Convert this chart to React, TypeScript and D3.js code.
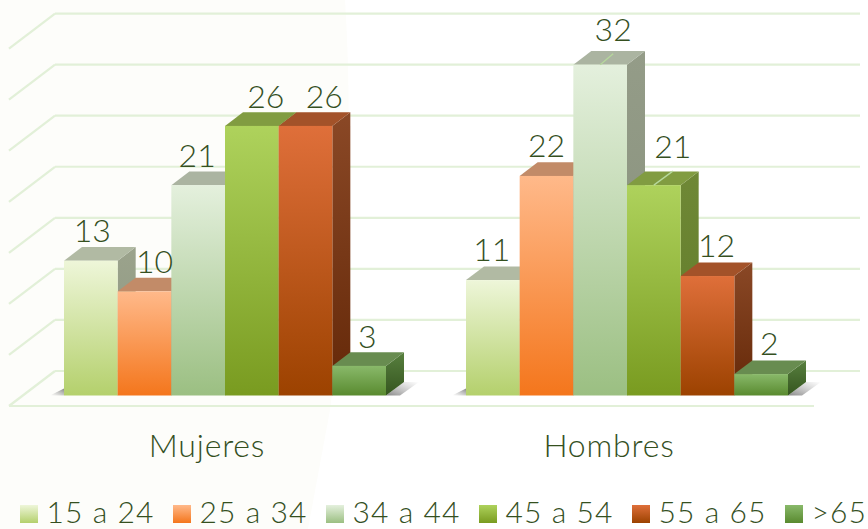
import React from "react";
import * as d3 from "d3";

const width = 868;
const height = 529;

const categories = ["Mujeres", "Hombres"];
const ageGroups = ["15 a 24", "25 a 34", "34 a 44", "45 a 54", "55 a 65", ">65"];
const mujeres = [13.2, 10.2, 20.6, 26.4, 26.4, 2.9];
const hombres = [11.3, 21.5, 32.4, 20.6, 11.7, 2.1];
const mujeresLabels = ["13", "10", "21", "26", "26", "3"];
const hombresLabels = ["11", "22", "32", "21", "12", "2"];
const yTicks = [0, 5, 10, 15, 20, 25, 30, 35];

// label nudges as placed by hand in the original chart
const mujeresNudge = [[1.5, -19], [10, -18], [-1, -18], [14, -18], [18.7, -18], [8, -18]];
const hombresNudge = [[-1, -19], [0, -19], [13, -24], [19, -27], [9, -19], [8, -19]];
// the two labels that got dragged far enough to grow a leader line
const leaders = [
  { group: 1, index: 2 },
  { group: 1, index: 3 },
];

const palette = [
  { front: ["#eef6d9", "#b4d06c"], top: "#b1baa3", side: ["#9ba38c", "#8c9580"] },
  { front: ["#ffb98a", "#f4761c"], top: "#c28b68", side: ["#a37a58", "#8a5a38"] },
  { front: ["#e4f0dd", "#9bbf82"], top: "#abb4a1", side: ["#949c88", "#868f7a"] },
  { front: ["#aed25c", "#799b20"], top: "#819c41", side: ["#6f8836", "#5f7a28"] },
  { front: ["#df6f3a", "#9c4200"], top: "#a35229", side: ["#8a4826", "#642808"] },
  { front: ["#89b96a", "#598a2f"], top: "#688c50", side: ["#58803f", "#35551f"] },
];

const textColor = "#35501f";
const gridColor = "#e2f0d8";
const depthX = 18;
const depthY = 13.6;
const floorY = 395.5;
const backLeft = 55;
const backRight = 860;
const wallDx = 46;
const wallDy = 35;
const font = "Lato, 'Open Sans', sans-serif";

const group = d3.scaleBand<string>().domain(categories).range([9, 813]);
const age = d3.scaleBand<string>().domain(ageGroups).range([55, 377]);
// gridlines run along the back wall
const yGrid = d3.scaleLinear().domain([0, 35]).range([371, 13.6]);
// bars stand nearer the viewer, same units, lower baseline
const yBar = d3.scaleLinear().domain([0, 35]).range([floorY, floorY - (371 - 13.6)]);
const legendX = d3.scalePoint<string>().domain(ageGroups).range([20, 785]);

const poly = d3.line();

const series = [
  { name: categories[0], values: mujeres, labels: mujeresLabels, nudge: mujeresNudge },
  { name: categories[1], values: hombres, labels: hombresLabels, nudge: hombresNudge },
];

export default function App() {
  const w = age.bandwidth();
  return (
    <svg
      width={width}
      height={height}
      style={{ position: "absolute", left: 0, top: 0, background: "#ffffff" }}
    >
      <defs>
        {palette.map((p, i) => (
          <React.Fragment key={i}>
            <linearGradient id={`front${i}`} x1="0" y1="0" x2="0" y2="1">
              <stop offset="0" stopColor={p.front[0]} />
              <stop offset="1" stopColor={p.front[1]} />
            </linearGradient>
            <linearGradient id={`side${i}`} x1="0" y1="0" x2="0" y2="1">
              <stop offset="0" stopColor={p.side[0]} />
              <stop offset="1" stopColor={p.side[1]} />
            </linearGradient>
          </React.Fragment>
        ))}
        <linearGradient id="shadowR" x1="0" y1="1" x2="1" y2="0">
          <stop offset="0" stopColor="#555" stopOpacity="0.7" />
          <stop offset="1" stopColor="#888" stopOpacity="0" />
        </linearGradient>
        <linearGradient id="shadowL" x1="1" y1="0" x2="0" y2="1">
          <stop offset="0" stopColor="#555" stopOpacity="0.7" />
          <stop offset="1" stopColor="#888" stopOpacity="0" />
        </linearGradient>
      </defs>

      {/* faint slide background */}
      <path d="M0,0 L345,0 C352,110 350,260 330,410 L308,529 L0,529 Z" fill="#fdfdfa" />

      {/* back wall grid and left wall */}
      <g stroke={gridColor} strokeWidth={2.2} fill="none">
        {yTicks.map((t) => (
          <g key={t}>
            <line x1={backLeft} x2={backRight} y1={yGrid(t)} y2={yGrid(t)} />
            <line
              x1={backLeft}
              x2={backLeft - wallDx}
              y1={yGrid(t)}
              y2={yGrid(t) + wallDy}
            />
          </g>
        ))}
        <line
          x1={backLeft - wallDx}
          x2={backRight - wallDx}
          y1={yGrid(0) + wallDy}
          y2={yGrid(0) + wallDy}
        />
      </g>

      {series.map((s) => {
        const gx = group(s.name) as number;
        const first = gx + (age(ageGroups[0]) as number);
        const last = gx + (age(ageGroups[5]) as number) + w;
        return (
          <g key={s.name}>
            {/* floor shadows */}
            <path
              d={poly([[first, floorY], [first - 14, floorY], [first, floorY - 7]]) as string}
              fill="url(#shadowL)"
            />
            <path
              d={poly([[last, floorY], [last + 18, floorY - 13.6], [last + 33, floorY - 13.6], [last + 14, floorY]]) as string}
              fill="url(#shadowR)"
            />
            {ageGroups.map((a, i) => {
              const x0 = gx + (age(a) as number);
              const x1 = x0 + w;
              const top = yBar(s.values[i]);
              return (
                <g key={a}>
                  <path
                    d={poly([[x1, top], [x1 + depthX, top - depthY], [x1 + depthX, floorY - depthY], [x1, floorY]]) as string + "Z"}
                    fill={`url(#side${i})`}
                  />
                  <path
                    d={poly([[x0, top], [x0 + depthX, top - depthY], [x1 + depthX, top - depthY], [x1, top]]) as string + "Z"}
                    fill={palette[i].top}
                  />
                  <rect
                    x={x0}
                    y={top}
                    width={w}
                    height={floorY - top}
                    fill={`url(#front${i})`}
                  />
                </g>
              );
            })}
          </g>
        );
      })}

      {/* leader lines */}
      {leaders.map((l) => {
        const s = series[l.group];
        const a = ageGroups[l.index];
        const cx = (group(s.name) as number) + (age(a) as number) + w / 2;
        const top = yBar(s.values[l.index]);
        const [dx, dy] = s.nudge[l.index];
        return (
          <line
            key={a}
            x1={cx}
            y1={top}
            x2={cx + dx}
            y2={top + dy + 13}
            stroke="#b6d89c"
            strokeWidth={1.3}
          />
        );
      })}

      {/* data labels */}
      <g fill={textColor} fontFamily={font} fontWeight={300} fontSize={32} textAnchor="middle">
        {series.map((s) =>
          ageGroups.map((a, i) => {
            const cx = (group(s.name) as number) + (age(a) as number) + w / 2;
            return (
              <text key={s.name + a} x={cx + s.nudge[i][0]} y={yBar(s.values[i]) + s.nudge[i][1]}>
                {s.labels[i]}
              </text>
            );
          })
        )}
      </g>

      {/* category labels */}
      <g fill={textColor} fontFamily={font} fontWeight={300} fontSize={32} letterSpacing={0.8} textAnchor="middle">
        {categories.map((c) => (
          <text key={c} x={(group(c) as number) + group.bandwidth() / 2 - 3} y={457}>
            {c}
          </text>
        ))}
      </g>

      {/* legend */}
      <g fontFamily={font} fontWeight={300} fontSize={30} letterSpacing={1.1} fill={textColor}>
        {ageGroups.map((a, i) => (
          <g key={a}>
            <rect x={legendX(a)} y={505} width={18} height={18} fill={`url(#front${i})`} />
            <text x={(legendX(a) as number) + 26.5} y={523}>
              {a}
            </text>
          </g>
        ))}
      </g>
    </svg>
  );
}
